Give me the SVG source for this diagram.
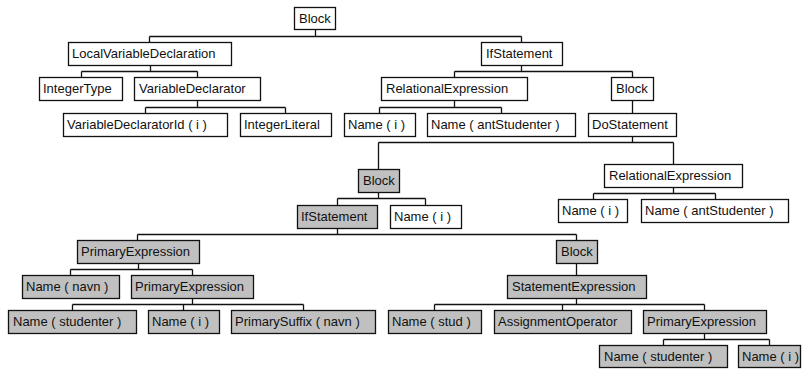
<svg xmlns="http://www.w3.org/2000/svg" width="802" height="369" viewBox="0 0 802 369">
  <style>
    rect { stroke: #111; stroke-width: 1.3; }
    .w rect { fill: #fff; }
    .g rect { fill: #c0c0c0; }
    text { font-family: "Liberation Sans", Arial, sans-serif; font-size: 13px; fill: #111; }
    .edges { fill: none; stroke: #111; stroke-width: 1.3; }
  </style>
  <rect x="0" y="0" width="802" height="369" fill="#fff" style="stroke:none"/>

  <!-- tree edges -->
  <g id="connectors" class="edges">
    <path d="M315.5 29V36.5 M149.5 36.5H521.5 M149.5 36.5V42 M521.5 36.5V42"/>
    <path d="M150.5 65V71.5 M81.5 71.5H197.5 M81.5 71.5V77 M197.5 71.5V77"/>
    <path d="M521.5 65V71.5 M454.5 71.5H632.5 M454.5 71.5V77 M632.5 71.5V77"/>
    <path d="M197.5 100V107.5 M145.5 107.5H285.5 M145.5 107.5V113 M285.5 107.5V113"/>
    <path d="M454.5 100V107.5 M379.5 107.5H501.5 M379.5 107.5V113 M501.5 107.5V113"/>
    <path d="M632.5 100V113"/>
    <path d="M632.5 136V142.5 M378.5 142.5H673.5 M378.5 142.5V169 M673.5 142.5V164"/>
    <path d="M673.5 187V193.5 M593.5 193.5H715.5 M593.5 193.5V199 M715.5 193.5V199"/>
    <path d="M378.5 192V198.5 M337.5 198.5H425.5 M337.5 198.5V205 M425.5 198.5V205"/>
    <path d="M337.5 228V234.5 M137.5 234.5H576.5 M137.5 234.5V240 M576.5 234.5V240"/>
    <path d="M138.5 263V269.5 M70.5 269.5H192.5 M70.5 269.5V275 M192.5 269.5V275"/>
    <path d="M192.5 298V304.5 M72.5 304.5H303.5 M72.5 304.5V310 M183.5 304.5V310 M303.5 304.5V310"/>
    <path d="M576.5 263V275"/>
    <path d="M576.5 298V304.5 M434.5 304.5H704.5 M434.5 304.5V310 M562.5 304.5V310 M704.5 304.5V310"/>
    <path d="M704.5 333V339.5 M663.5 339.5H769.5 M663.5 339.5V345 M769.5 339.5V345"/>
  </g>

  <!-- white nodes -->
  <g id="n1" class="w"><rect x="294.5" y="7.5" width="41" height="22"/><text x="299" y="23">Block</text></g>
  <g id="n2" class="w"><rect x="68.5" y="42.5" width="163" height="23"/><text x="72" y="58">LocalVariableDeclaration</text></g>
  <g id="n3" class="w"><rect x="481.5" y="42.5" width="81" height="23"/><text x="486" y="58">IfStatement</text></g>
  <g id="n4" class="w"><rect x="39.5" y="77.5" width="83" height="23"/><text x="43" y="93">IntegerType</text></g>
  <g id="n5" class="w"><rect x="134.5" y="77.5" width="126" height="23"/><text x="139" y="93">VariableDeclarator</text></g>
  <g id="n6" class="w"><rect x="381.5" y="77.5" width="146" height="23"/><text x="386" y="93">RelationalExpression</text></g>
  <g id="n7" class="w"><rect x="611.5" y="77.5" width="42" height="23"/><text x="616" y="93">Block</text></g>
  <g id="n8" class="w"><rect x="63.5" y="113.5" width="164" height="23"/><text x="67" y="129">VariableDeclaratorId ( i )</text></g>
  <g id="n9" class="w"><rect x="240.5" y="113.5" width="91" height="23"/><text x="244" y="129">IntegerLiteral</text></g>
  <g id="n10" class="w"><rect x="344.5" y="113.5" width="71" height="23"/><text x="348" y="129">Name ( i )</text></g>
  <g id="n11" class="w"><rect x="427.5" y="113.5" width="148" height="23"/><text x="431" y="129">Name ( antStudenter )</text></g>
  <g id="n12" class="w"><rect x="588.5" y="113.5" width="88" height="23"/><text x="592" y="129">DoStatement</text></g>
  <g id="n14" class="w"><rect x="604.5" y="164.5" width="138" height="23"/><text x="609" y="180">RelationalExpression</text></g>
  <g id="n15" class="w"><rect x="558.5" y="199.5" width="69" height="23"/><text x="562" y="215">Name ( i )</text></g>
  <g id="n16" class="w"><rect x="641.5" y="199.5" width="147" height="23"/><text x="645" y="215">Name ( antStudenter )</text></g>
  <g id="n18" class="w"><rect x="390.5" y="205.5" width="71" height="23"/><text x="394" y="221">Name ( i )</text></g>

  <!-- grey nodes -->
  <g id="n13" class="g"><rect x="358.5" y="169.5" width="41" height="23"/><text x="363" y="185">Block</text></g>
  <g id="n17" class="g"><rect x="297.5" y="205.5" width="80" height="23"/><text x="301" y="221">IfStatement</text></g>
  <g id="n19" class="g"><rect x="77.5" y="240.5" width="122" height="23"/><text x="81" y="256">PrimaryExpression</text></g>
  <g id="n20" class="g"><rect x="556.5" y="240.5" width="41" height="23"/><text x="561" y="256">Block</text></g>
  <g id="n21" class="g"><rect x="22.5" y="275.5" width="97" height="23"/><text x="26" y="291">Name ( navn )</text></g>
  <g id="n22" class="g"><rect x="131.5" y="275.5" width="122" height="23"/><text x="135" y="291">PrimaryExpression</text></g>
  <g id="n23" class="g"><rect x="507.5" y="275.5" width="139" height="23"/><text x="512" y="291">StatementExpression</text></g>
  <g id="n24" class="g"><rect x="8.5" y="310.5" width="128" height="23"/><text x="13" y="326">Name ( studenter )</text></g>
  <g id="n25" class="g"><rect x="148.5" y="310.5" width="71" height="23"/><text x="152" y="326">Name ( i )</text></g>
  <g id="n26" class="g"><rect x="231.5" y="310.5" width="144" height="23"/><text x="235" y="326">PrimarySuffix ( navn )</text></g>
  <g id="n27" class="g"><rect x="388.5" y="310.5" width="93" height="23"/><text x="392" y="326">Name ( stud )</text></g>
  <g id="n28" class="g"><rect x="494.5" y="310.5" width="137" height="23"/><text x="498" y="326">AssignmentOperator</text></g>
  <g id="n29" class="g"><rect x="643.5" y="310.5" width="123" height="23"/><text x="647" y="326">PrimaryExpression</text></g>
  <g id="n30" class="g"><rect x="599.5" y="345.5" width="128" height="22"/><text x="604" y="361">Name ( studenter )</text></g>
  <g id="n31" class="g"><rect x="738.5" y="345.5" width="62" height="22"/><text x="742" y="361">Name ( i )</text></g>
</svg>
